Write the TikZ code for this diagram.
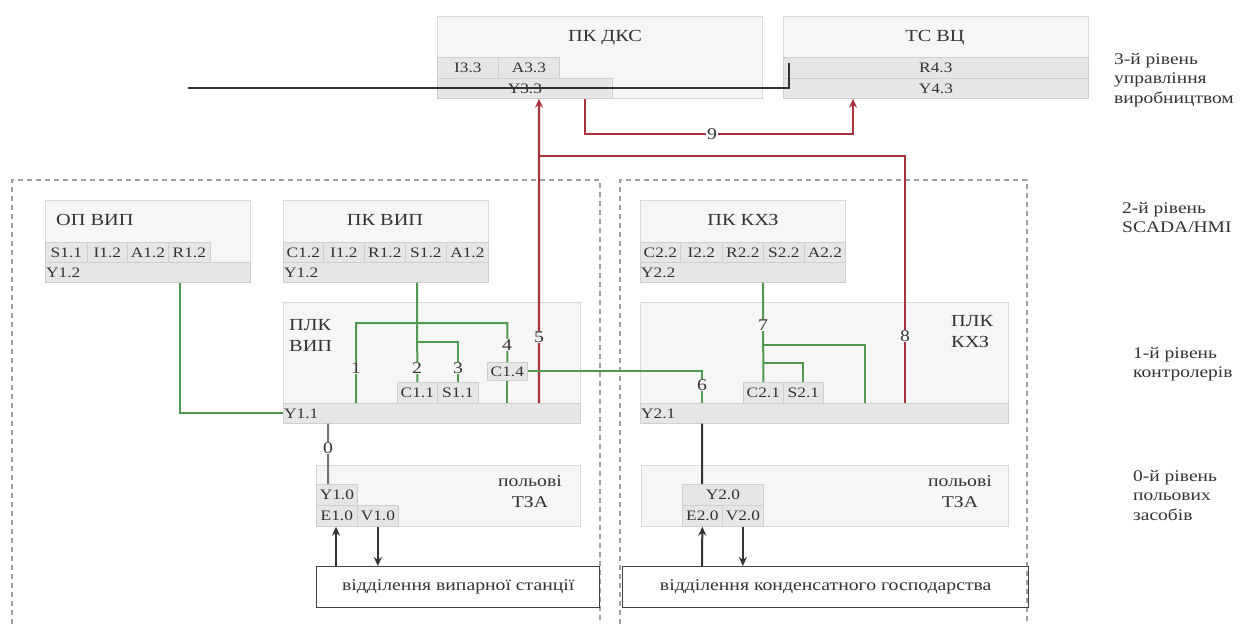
\documentclass[tikz,border=0pt]{standalone}
\usepackage{fontspec}
\setmainfont{Liberation Serif}[FakeStretch=1.2]
\usetikzlibrary{arrows.meta}
\definecolor{boxfill}{HTML}{F6F6F6}
\definecolor{boxline}{HTML}{D9D9D9}
\definecolor{cellfill}{HTML}{E6E6E6}
\definecolor{cellline}{HTML}{CFCFCF}
\definecolor{grn}{HTML}{4E9A4E}
\definecolor{rd}{HTML}{A8323E}
\definecolor{txt}{HTML}{333333}
\definecolor{dash}{HTML}{A0A0A0}
\begin{document}
\begin{tikzpicture}[x=1bp,y=-1bp, font=\fontsize{16.5}{19}\selectfont, text=txt,
 box/.style={draw=boxline, fill=boxfill, line width=0.9bp, anchor=north west, inner sep=0pt},
 cell/.style={draw=cellline, fill=cellfill, line width=0.7bp, anchor=north west, inner sep=0pt, font=\fontsize{14.5}{16}\selectfont},
 ctext/.style={anchor=west, inner sep=1pt, font=\fontsize{14.5}{16}\selectfont},
 ttl/.style={inner sep=0pt, font=\fontsize{17}{19}\selectfont},
 lvl/.style={anchor=north west, align=left, inner sep=0pt, font=\fontsize{16.3}{19.5}\selectfont},
 gl/.style={draw=grn, line width=2bp},
 rl/.style={draw=rd, line width=2.2bp},
 bl/.style={draw=black!80, line width=2bp},
 tip/.style={-{Stealth[length=9bp,width=8bp]}},
 num/.style={inner sep=0.8pt, font=\fontsize{16.5}{17}\selectfont},
 dbox/.style={draw=dash, line width=1.2bp, dash pattern=on 5bp off 4bp}
]
\useasboundingbox (0,0) rectangle (1245,624);
\fill[white] (0,0) rectangle (1245,624);

% dashed groups
\coordinate (dl1) at (12,624);
\coordinate (dl2) at (600,624);
\coordinate (dr1) at (620,624);
\coordinate (dr2) at (1027,624);
\draw[dbox] (dl1) -- (12,180) -- (600,180) -- (dl2);
\draw[dbox] (dr1) -- (620,180) -- (1027,180) -- (dr2);

% level 3
\node[box, minimum width=325bp, minimum height=82bp] (dks) at (437,16) {};
\node[ttl] (dkst) at (605,38) {ПК ДКС};
\node[cell, minimum width=61bp, minimum height=21bp] (i33) at (437,57) {I3.3};
\node[cell, minimum width=61bp, minimum height=21bp] (a33) at (498,57) {A3.3};
\node[cell, minimum width=175bp, minimum height=20bp] (y33) at (437,78) {Y3.3};

\node[box, minimum width=305bp, minimum height=82bp] (tc) at (783,16) {};
\node[ttl] (tct) at (935,38) {ТС ВЦ};
\node[cell, minimum width=305bp, minimum height=21bp] (r43) at (783,57) {R4.3};
\node[cell, minimum width=305bp, minimum height=20bp] (y43) at (783,78) {Y4.3};

% level 2 left
\node[box, minimum width=205bp, minimum height=82bp] (op) at (45,200) {};
\node[ttl, anchor=west] (opt) at (56,220) {ОП ВИП};
\node[cell, minimum width=42bp, minimum height=20bp] (op1) at (45,242) {S1.1};
\node[cell, minimum width=40bp, minimum height=20bp] (op2) at (87,242) {I1.2};
\node[cell, minimum width=41bp, minimum height=20bp] (op3) at (127,242) {A1.2};
\node[cell, minimum width=42bp, minimum height=20bp] (op4) at (168,242) {R1.2};
\node[cell, minimum width=205bp, minimum height=20bp] (opy) at (45,262) {};
\node[ctext] at (opy.west) {Y1.2};

\node[box, minimum width=205bp, minimum height=82bp] (pk) at (283,200) {};
\node[ttl] (pkt) at (385,220) {ПК ВИП};
\node[cell, minimum width=40bp, minimum height=20bp] (pk1) at (283,242) {C1.2};
\node[cell, minimum width=41bp, minimum height=20bp] (pk2) at (323,242) {I1.2};
\node[cell, minimum width=41bp, minimum height=20bp] (pk3) at (364,242) {R1.2};
\node[cell, minimum width=41bp, minimum height=20bp] (pk4) at (405,242) {S1.2};
\node[cell, minimum width=42bp, minimum height=20bp] (pk5) at (446,242) {A1.2};
\node[cell, minimum width=205bp, minimum height=20bp] (pky) at (283,262) {};
\node[ctext] at (pky.west) {Y1.2};

% level 2 right
\node[box, minimum width=205bp, minimum height=82bp] (pkk) at (640,200) {};
\node[ttl] (pkkt) at (743,220) {ПК КХЗ};
\node[cell, minimum width=40bp, minimum height=20bp] (pkk1) at (640,242) {C2.2};
\node[cell, minimum width=42bp, minimum height=20bp] (pkk2) at (680,242) {I2.2};
\node[cell, minimum width=41bp, minimum height=20bp] (pkk3) at (722,242) {R2.2};
\node[cell, minimum width=41bp, minimum height=20bp] (pkk4) at (763,242) {S2.2};
\node[cell, minimum width=41bp, minimum height=20bp] (pkk5) at (804,242) {A2.2};
\node[cell, minimum width=205bp, minimum height=20bp] (pkky) at (640,262) {};
\node[ctext] at (pkky.west) {Y2.2};

% level 1 left
\node[box, minimum width=297bp, minimum height=121bp] (plc1) at (283,302) {};
\node[ttl, anchor=north west, align=left, font=\fontsize{17}{21}\selectfont] (plc1t) at (289,319) {ПЛК\\ВИП};
\node[cell, minimum width=297bp, minimum height=20bp] (b11) at (283,403) {};
\node[ctext] at (b11.west) {Y1.1};
\node[cell, minimum width=40bp, minimum height=21bp] (c11) at (397,382) {C1.1};
\node[cell, minimum width=41bp, minimum height=21bp] (s11) at (437,382) {S1.1};
\node[cell, minimum width=40bp, minimum height=18bp] (c14) at (487,362) {C1.4};

% level 1 right
\node[box, minimum width=368bp, minimum height=121bp] (plc2) at (640,302) {};
\node[ttl, anchor=north west, align=left, font=\fontsize{17}{21}\selectfont] (plc2t) at (951,315) {ПЛК\\КХЗ};
\node[cell, minimum width=368bp, minimum height=20bp] (b21) at (640,403) {};
\node[ctext] at (b21.west) {Y2.1};
\node[cell, minimum width=40bp, minimum height=21bp] (c21) at (743,382) {C2.1};
\node[cell, minimum width=40bp, minimum height=21bp] (s21) at (783,382) {S2.1};

% level 0 left
\node[box, minimum width=264bp, minimum height=61bp] (f1) at (316,465) {};
\node[ttl, align=center, font=\fontsize{16.5}{21}\selectfont] (f1t) at (530,492) {польові\\ТЗА};
\node[cell, minimum width=41bp, minimum height=21bp] (y10) at (316,484) {Y1.0};
\node[cell, minimum width=41bp, minimum height=21bp] (e10) at (316,505) {E1.0};
\node[cell, minimum width=41bp, minimum height=21bp] (v10) at (357,505) {V1.0};
\node[draw=black!75, line width=1.4bp, anchor=north west, minimum width=283bp, minimum height=41bp, inner sep=0pt] (dep1) at (316,566) {};
\node[ttl, font=\fontsize{16.5}{19}\selectfont] at (dep1.center) {відділення випарної станції};

% level 0 right
\node[box, minimum width=367bp, minimum height=61bp] (f2) at (641,465) {};
\node[ttl, align=center, font=\fontsize{16.5}{21}\selectfont] (f2t) at (960,492) {польові\\ТЗА};
\node[cell, minimum width=81bp, minimum height=21bp] (y20) at (682,484) {Y2.0};
\node[cell, minimum width=40bp, minimum height=21bp] (e20) at (682,505) {E2.0};
\node[cell, minimum width=41bp, minimum height=21bp] (v20) at (722,505) {V2.0};
\node[draw=black!75, line width=1.4bp, anchor=north west, minimum width=406bp, minimum height=41bp, inner sep=0pt] (dep2) at (622,566) {};
\node[ttl, font=\fontsize{16.5}{19}\selectfont] at (dep2.center) {відділення конденсатного господарства};

% level labels
\node[lvl] (l3) at (1114,53) {3-й рівень\\управління\\виробництвом};
\node[lvl] (l2) at (1122,202) {2-й рівень\\SCADA/HMI};
\node[lvl] (l1) at (1133,347) {1-й рівень\\контролерів};
\node[lvl] (l0) at (1133,470) {0-й рівень\\польових\\засобів};

% top black line
\coordinate (lstart) at (188,88);
\draw[bl, line width=1.8bp] (lstart) -| ([xshift=6bp,yshift=-6bp]r43.north west);

% red lines
\coordinate (j5) at (539,156);
\draw[rl, tip] ([xshift=256bp]b11.north west) -- ([xshift=102bp]y33.south west);
\draw[rl] ([xshift=265bp]b21.north west) |- (j5);
\draw[rl, tip] ([xshift=148bp]y33.south west) -- ++(0,35) -| ([xshift=70bp]y43.south west);
\node[num, fill=white] at (712,134) {9};

% green lines
\draw[gl] ([xshift=135bp]opy.south west) |- (b11.west);
\draw[gl] ([xshift=134bp]pky.south west) -- (c11.north);
\coordinate (br3) at (417,342);
\draw[gl] (br3) -| (s11.north);
\coordinate (t1) at (356,323);
\draw[gl] ([xshift=73bp]b11.north west) -- (t1) -| (c14.north);
\draw[gl] (c14.south) -- (c14.south |- b11.north);
\draw[gl] (c14.east) -| ([xshift=62bp]b21.north west);

\draw[gl] ([xshift=123bp]pkky.south west) -- (c21.north);
\coordinate (br7a) at (763,345);
\coordinate (br7b) at (763,363);
\draw[gl] (br7a) -| ([xshift=225bp]b21.north west);
\draw[gl] (br7b) -| (s21.north);

% black lines
\draw[bl, draw=black!55] ([xshift=45bp]b11.south west) -- ([xshift=12bp]y10.north west);
\draw[bl] ([xshift=62bp]b21.south west) -- ([xshift=20bp]y20.north west);
\draw[bl, tip] ([xshift=20bp]dep1.north west) -- ([xshift=20bp]e10.south west);
\draw[bl, tip] (v10.south) -- (v10.south |- dep1.north);
\draw[bl, tip] ([xshift=80bp]dep2.north west) -- (e20.south);
\draw[bl, tip] (v20.south) -- (v20.south |- dep2.north);

% numbers
\node[num, fill=boxfill] at (356,368) {1};
\node[num, fill=boxfill] at (417,368) {2};
\node[num, fill=boxfill] at (458,368) {3};
\node[num, fill=boxfill] at (507,345) {4};
\node[num, fill=boxfill] at (539,337) {5};
\node[num, fill=boxfill] at (702,385) {6};
\node[num, fill=boxfill] at (763,325) {7};
\node[num, fill=white] at (905,336) {8};
\node[num, fill=white] at (328,448) {0};
\end{tikzpicture}
\end{document}
